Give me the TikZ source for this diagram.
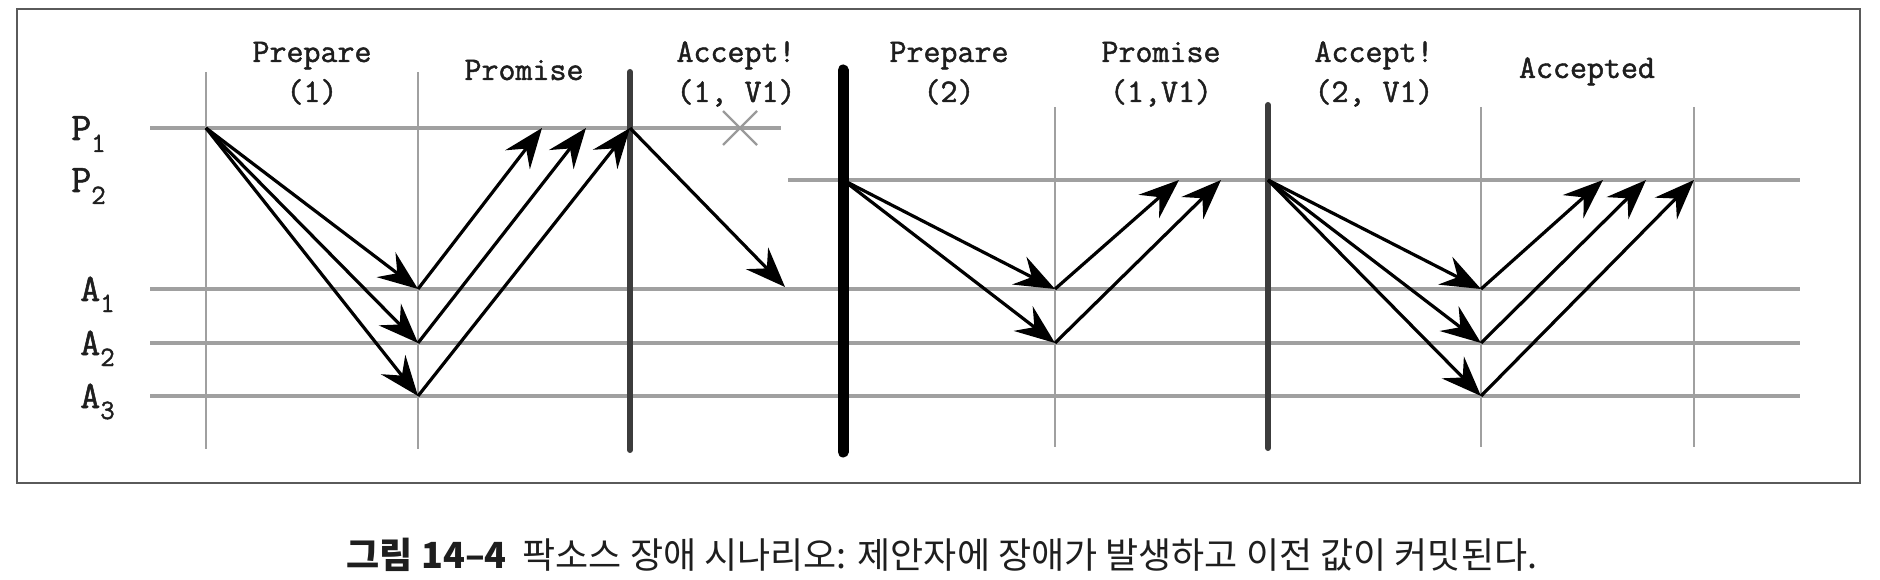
\documentclass[tikz,border=0pt]{standalone}
\usepackage{fontspec}
\newfontfamily\kr{Noto Sans CJK KR}
\newfontfamily\ttheavy{Latin Modern Mono}[FakeBold=1.4]
\usetikzlibrary{arrows.meta,calc}
\definecolor{gridgray}{HTML}{A0A0A0}
\definecolor{phasegray}{HTML}{3C3C3C}
\definecolor{framegray}{HTML}{5A5A5A}
\definecolor{xgray}{HTML}{9A9A9A}
\definecolor{ink}{HTML}{1E1E1E}
\begin{document}
\begin{tikzpicture}[x=1pt,y=-1pt,
  hline/.style={draw=gridgray, line width=3.4pt},
  vline/.style={draw=gridgray, line width=2.2pt},
  phase/.style={draw=phasegray, line width=6pt, line cap=round},
  crash/.style={draw=black, line width=11pt, line cap=round},
  msg/.style={draw=black, line width=3.2pt, -{Stealth[length=40pt,width=31pt,inset=14pt]}},
  hdr/.style={font=\ttheavy\fontsize{33}{40}\selectfont, text=ink, inner sep=0pt, anchor=base},
  lbl/.style={font=\ttheavy\fontsize{39}{44}\selectfont, text=ink, inner sep=0pt, anchor=base west},
]
\useasboundingbox (0,0) rectangle (1880,580);
\draw[framegray, line width=1.8pt] (17,9) rectangle (1860,483);

% horizontal lines
\draw[hline] (150,128) -- (781,128);
\draw[hline] (788,180) -- (1800,180);
\foreach \y in {289,343,396} \draw[hline] (150,\y) -- (1800,\y);
% vertical lines
\foreach \x in {206,418} \draw[vline] (\x,72) -- (\x,449);
\foreach \x in {1055,1481,1694} \draw[vline] (\x,107) -- (\x,447);
\draw[phase] (630,72) -- (630,450);
\draw[phase] (1268,105) -- (1268,448);
\draw[crash] (843,70) -- (843,452);

% crash mark
\coordinate (xm) at (740,128);
\draw[xgray, line width=2.4pt] ($(xm)+(-17,-17)$) -- ($(xm)+(17,17)$);
\draw[xgray, line width=2.4pt] ($(xm)+(-17,17)$) -- ($(xm)+(17,-17)$);

% points
\coordinate (p1a) at (206,128);
\coordinate (a1a) at (418,289);
\coordinate (a2a) at (418,343);
\coordinate (a3a) at (418,396);
\coordinate (r1a) at (542,128);
\coordinate (r2a) at (586,128);
\coordinate (p1b) at (630,128);
\coordinate (lost) at (785,287);
\coordinate (p2a) at (843,180);
\coordinate (a1b) at (1055,289);
\coordinate (a2b) at (1055,343);
\coordinate (r1b) at (1179,180);
\coordinate (r2b) at (1221,180);
\coordinate (p2b) at (1268,180);
\coordinate (a1c) at (1481,289);
\coordinate (a2c) at (1481,343);
\coordinate (a3c) at (1481,396);
\coordinate (r1c) at (1603,180);
\coordinate (r2c) at (1646,180);
\coordinate (r3c) at (1694,180);

% messages
\draw[msg] (p1a) -- (a1a);
\draw[msg] (p1a) -- (a2a);
\draw[msg] (p1a) -- (a3a);
\draw[msg] (a1a) -- (r1a);
\draw[msg] (a2a) -- (r2a);
\draw[msg] (a3a) -- (p1b);
\draw[msg] (p1b) -- (lost);
\draw[msg] (p2a) -- (a1b);
\draw[msg] (p2a) -- (a2b);
\draw[msg] (a1b) -- (r1b);
\draw[msg] (a2b) -- (r2b);
\draw[msg] (p2b) -- (a1c);
\draw[msg] (p2b) -- (a2c);
\draw[msg] (p2b) -- (a3c);
\draw[msg] (a1c) -- (r1c);
\draw[msg] (a2c) -- (r2c);
\draw[msg] (a3c) -- (r3c);

% row labels
\node[lbl] (lp1) at (71,140) {P\raisebox{-12pt}{\fontsize{28}{30}\selectfont 1}};
\node[lbl] (lp2) at (71,192) {P\raisebox{-12pt}{\fontsize{28}{30}\selectfont 2}};
\node[lbl] (la1) at (80,301) {A\raisebox{-11pt}{\fontsize{28}{30}\selectfont 1}};
\node[lbl] (la2) at (80,355) {A\raisebox{-11pt}{\fontsize{28}{30}\selectfont 2}};
\node[lbl] (la3) at (80,408) {A\raisebox{-11pt}{\fontsize{28}{30}\selectfont 3}};

% headers
\node[hdr] (h1a) at (312,62) {Prepare};
\node[hdr] (h1b) at (312,102) {(1)};
\node[hdr] (h2) at (524,80) {Promise};
\node[hdr] (h3a) at (736,62) {Accept!};
\node[hdr] (h3b) at (736,102) {(1, V1)};
\node[hdr] (h4a) at (949,62) {Prepare};
\node[hdr] (h4b) at (949,102) {(2)};
\node[hdr] (h5a) at (1161,62) {Promise};
\node[hdr] (h5b) at (1161,102) {(1,V1)};
\node[hdr] (h6a) at (1374,62) {Accept!};
\node[hdr] (h6b) at (1374,102) {(2, V1)};
\node[hdr] (h7) at (1587,78) {Accepted};

% caption
\node[font=\kr\fontsize{36}{42}\selectfont, text=ink, inner sep=0pt] (cap) at (942,555)
  {{\bfseries 그림 14–4}\hspace{16pt}팍소스 장애 시나리오: 제안자에 장애가 발생하고 이전 값이 커밋된다.};
\end{tikzpicture}
\end{document}
